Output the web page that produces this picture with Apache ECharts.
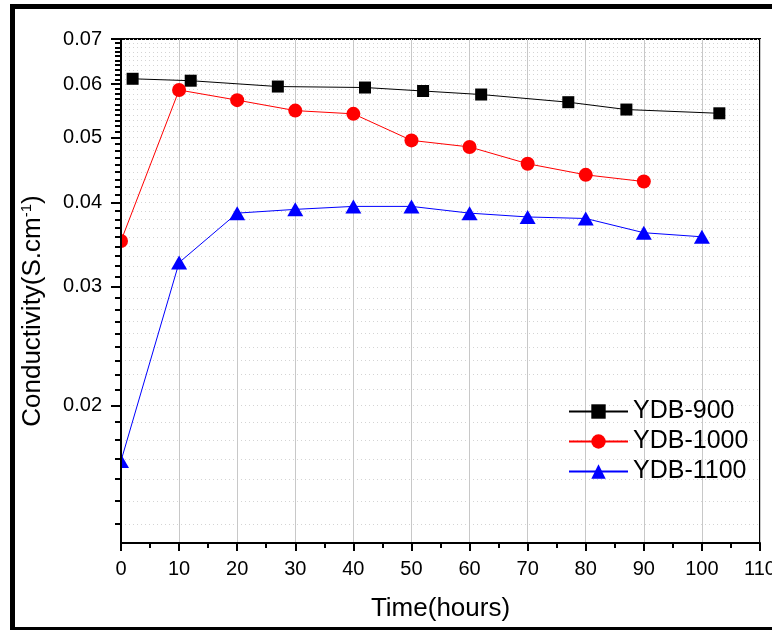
<!DOCTYPE html>
<html>
<head>
<meta charset="utf-8">
<script src="https://cdn.jsdelivr.net/npm/echarts@6/dist/echarts.min.js"></script>
<style>
html, body { margin: 0; padding: 0; background: #fff; }
#main { width: 772px; height: 630px; }
</style>
</head>
<body>
<div id="main"></div>
<script>
// data
var time900 = [2, 12, 27, 42, 52, 62, 77, 87, 103];
var cond900 = [0.0611, 0.0607, 0.0595, 0.0593, 0.0586, 0.0579, 0.0564, 0.0550, 0.0543];
var time1000 = [0, 10, 20, 30, 40, 50, 60, 70, 80, 90];
var cond1000 = [0.0351, 0.0588, 0.0568, 0.0548, 0.0542, 0.0495, 0.0484, 0.0457, 0.0440, 0.0430];
var time1100 = [0, 10, 20, 30, 40, 50, 60, 70, 80, 90, 100];
var cond1100 = [0.01655, 0.0326, 0.0386, 0.0391, 0.0395, 0.0395, 0.0386, 0.0381, 0.0379, 0.0361, 0.0356];

var yMajor = [0.02, 0.03, 0.04, 0.05, 0.06, 0.07];
var yMin = 0.0125, yMax = 0.07;

// minor ticks: 8 between majors below 0.05, 9 above
var yMinor = [];
(function () {
    var lows = [0.01, 0.02, 0.03, 0.04, 0.05, 0.06];
    for (var i = 0; i < lows.length; i++) {
        var n = lows[i] >= 0.05 ? 10 : 9;
        for (var k = 1; k < n; k++) {
            var v = lows[i] + 0.01 * k / n;
            if (v > yMin && v < yMax) yMinor.push(+v.toFixed(5));
        }
    }
})();
var yGrid = yMajor.concat(yMinor);

function pairs(xs, ys) {
    var out = [];
    for (var i = 0; i < xs.length; i++) out.push([xs[i], ys[i]]);
    return out;
}

var font = 'Liberation Sans';
var chart = echarts.init(document.getElementById('main'));

var option = {
    backgroundColor: '#fff',
    animation: false,
    textStyle: { fontFamily: font },
    grid: {
        left: 121, right: 12, top: 39, bottom: 87,
        outerBoundsMode: 'none',
        show: true, borderColor: '#000', borderWidth: 2, backgroundColor: 'transparent'
    },
    legend: {
        orient: 'vertical',
        left: 563, top: 394,
        itemWidth: 59, itemHeight: 18, itemGap: 5,
        textStyle: { fontFamily: font, fontSize: 25, color: '#000' },
        data: ['YDB-900', 'YDB-1000', 'YDB-1100']
    },
    xAxis: {
        type: 'value', min: 0, max: 110, interval: 10,
        name: 'Time(hours)', nameLocation: 'middle', nameGap: 53,
        nameTextStyle: { fontFamily: font, fontSize: 26, color: '#000' },
        axisLine: { lineStyle: { color: '#000', width: 2 } },
        axisTick: { inside: false, length: 8, lineStyle: { color: '#000', width: 2 } },
        minorTick: { show: true, splitNumber: 2, length: 5, lineStyle: { color: '#000', width: 2 } },
        axisLabel: { fontFamily: font, fontSize: 20, color: '#000', margin: 16 },
        splitLine: { show: true, lineStyle: { color: '#c8c8c8', width: 1 } }
    },
    yAxis: [{
        // dotted grid only, under the series
        type: 'log', logBase: 10, min: yMin, max: yMax,
        axisLine: { show: false },
        axisTick: { show: false, customValues: yGrid },
        axisLabel: { show: false },
        splitLine: { show: true, lineStyle: { color: '#d4d4d4', width: 1, type: [1, 3] } }
    }, {
        type: 'log', logBase: 10, min: yMin, max: yMax, position: 'left', z: 10,
        name: '{a|Conductivity(S.cm}{s|-1}{a|)}', nameLocation: 'middle', nameGap: 75,
        nameTextStyle: {
            padding: [0, 40, 0, 0],
            rich: {
                a: { fontFamily: font, fontSize: 26, color: '#000' },
                s: { fontFamily: font, fontSize: 15, color: '#000', verticalAlign: 'top', padding: [0, 0, 12, 0] }
            }
        },
        axisLine: { lineStyle: { color: '#000', width: 2 } },
        axisTick: { length: 10, customValues: yMajor, lineStyle: { color: '#000', width: 2 } },
        axisLabel: {
            customValues: yMajor, fontFamily: font, fontSize: 20, color: '#000', margin: 19,
            formatter: function (v) { return v.toFixed(2); }
        },
        splitLine: { show: false }
    }, {
        type: 'log', logBase: 10, min: yMin, max: yMax, position: 'left', z: 10,
        axisLine: { show: false },
        axisTick: { length: 6, customValues: yMinor, lineStyle: { color: '#000', width: 2 } },
        axisLabel: { show: false },
        splitLine: { show: false }
    }],
    graphic: [{
        // half-hide markers sitting on the y axis, like the original
        type: 'rect', z: 5, silent: true,
        shape: { x: 103, y: 30, width: 17, height: 520 },
        style: { fill: '#fff' }
    }, {
        // outer frame
        type: 'rect', z: 20, silent: true,
        shape: { x: 12.5, y: 6.5, width: 800, height: 623 },
        style: { fill: 'none', stroke: '#000', lineWidth: 5 }
    }],
    series: [{
        name: 'YDB-900', type: 'line', yAxisIndex: 1,
        symbol: 'rect', symbolSize: 12,
        itemStyle: { color: '#000' },
        lineStyle: { color: '#000', width: 1 },
        data: pairs(time900, cond900)
    }, {
        name: 'YDB-1000', type: 'line', yAxisIndex: 1,
        symbol: 'circle', symbolSize: 14,
        itemStyle: { color: '#ff0000' },
        lineStyle: { color: '#ff0000', width: 1 },
        data: pairs(time1000, cond1000)
    }, {
        name: 'YDB-1100', type: 'line', yAxisIndex: 1,
        symbol: 'triangle', symbolSize: [16, 14],
        itemStyle: { color: '#0000ff' },
        lineStyle: { color: '#0000ff', width: 1 },
        data: pairs(time1100, cond1100)
    }]
};

chart.setOption(option);
</script>
</body>
</html>
